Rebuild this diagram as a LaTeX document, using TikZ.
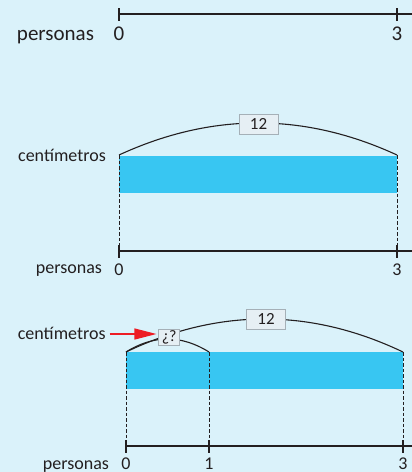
\documentclass[tikz,border=0pt]{standalone}
\usepackage{fontspec}
\setmainfont{Carlito}
\usetikzlibrary{arrows.meta,calc}
\definecolor{bgc}{RGB}{218,242,250}
\definecolor{barc}{RGB}{56,198,242}
\definecolor{ink}{RGB}{35,31,32}
\definecolor{boxfill}{RGB}{230,239,244}
\definecolor{boxline}{RGB}{165,176,183}
\definecolor{arrred}{RGB}{237,28,36}
\begin{document}
\begin{tikzpicture}[x=1pt,y=-1pt,
  axis/.style={draw=ink,line width=1.2pt},
  tick/.style={draw=ink,line width=2.6pt},
  guide/.style={draw=ink,line width=1pt,dash pattern=on 3.5pt off 2pt},
  arcline/.style={draw=ink,line width=1.1pt},
  bar/.style={fill=barc},
  lbl/.style={text=ink,inner sep=0pt,anchor=base},
  big/.style={font=\fontsize{21}{24}\selectfont},
  mid/.style={font=\fontsize{18}{21}\selectfont},
  valbox/.style={draw=boxline,fill=boxfill,line width=1pt,text=ink,inner sep=0pt,font=\fontsize{17}{20}\selectfont},
  redarrow/.style={draw=arrred,line width=1.2pt,-{Triangle[length=22pt,width=11pt]}}]
\fill[bgc] (0,0) rectangle (412,472);
\useasboundingbox (0,0) rectangle (412,472);
% ---------- section 1 ----------
\coordinate (a0) at (119,14);
\coordinate (a3) at (397,14);
\coordinate (aE) at (412,14);
\draw[axis] (a0) -- (aE);
\draw[tick] ($(a0)+(0,-6)$) -- ($(a0)+(0,7)$);
\draw[tick] ($(a3)+(0,-6)$) -- ($(a3)+(0,7)$);
\node[lbl,big] (n10) at (119,40.5) {0};
\node[lbl,big] (n13) at (397,40.5) {3};
\node[lbl,big] (p1) at (55.5,40) {personas};
% ---------- section 2 ----------
\fill[bar] (119,155.5) rectangle (397,192.5);
\coordinate (b0) at (119,155);
\coordinate (b3) at (397,155);
\coordinate (c0) at (119,251);
\coordinate (c3) at (397,251);
\coordinate (cE) at (412,251);
\draw[guide] (b0) -- (c0);
\draw[guide] (b3) -- (c3);
\draw[arcline] (b0) .. controls ($(b0)+(92.7,-42.7)$) and ($(b3)+(-92.7,-42.7)$) .. (b3);
\node[valbox,minimum width=39pt,minimum height=20pt] (v2) at (258.5,124) {12};
\draw[axis] (c0) -- (cE);
\draw[tick] ($(c0)+(0,-6)$) -- ($(c0)+(0,7)$);
\draw[tick] ($(c3)+(0,-6)$) -- ($(c3)+(0,7)$);
\node[lbl,mid] (n20) at (119,275.5) {0};
\node[lbl,mid] (n23) at (397,275.5) {3};
\node[lbl,mid] (p2) at (69,273) {personas};
\node[lbl,mid] (cm2) at (62,161.5) {centímetros};
% ---------- section 3 ----------
\fill[bar] (126,352) rectangle (403,388.5);
\coordinate (d0) at (126,352);
\coordinate (d1) at (209,352);
\coordinate (d3) at (403,352);
\coordinate (e0) at (126,446);
\coordinate (e1) at (209,446);
\coordinate (e3) at (403,446);
\coordinate (eE) at (412,446);
\draw[guide] (d0) -- (e0);
\draw[guide] (d1) -- (e1);
\draw[guide] (d3) -- (e3);
\draw[arcline] (d0) .. controls ($(d0)+(92.3,-44)$) and ($(d3)+(-92.3,-44)$) .. (d3);
\draw[arcline] (d0) .. controls ($(d0)+(27.7,-17.3)$) and ($(d1)+(-27.7,-17.3)$) .. (d1);
\node[valbox,minimum width=39pt,minimum height=20pt] (v3) at (266,319) {12};
\node[valbox,minimum width=20.5pt,minimum height=16pt,font=\fontsize{16}{19}\selectfont] (q3) at (169.2,337) {¿?};
\draw[axis] (e0) -- (eE);
\draw[tick] ($(e0)+(0,-6)$) -- ($(e0)+(0,7)$);
\draw[tick] ($(e1)+(0,-6)$) -- ($(e1)+(0,7)$);
\draw[tick] ($(e3)+(0,-6)$) -- ($(e3)+(0,7)$);
\node[lbl,mid] (n30) at (126,469.5) {0};
\node[lbl,mid] (n31) at (209,469.5) {1};
\node[lbl,mid] (n33) at (403,469.5) {3};
\node[lbl,mid] (p3) at (76,469) {personas};
\node[lbl,mid] (cm3) at (61.7,339) {centímetros};
\draw[redarrow] ($(cm3.base east)+(4,-5)$) -- ($(q3.west)+(-2,-3)$);
\end{tikzpicture}
\end{document}
